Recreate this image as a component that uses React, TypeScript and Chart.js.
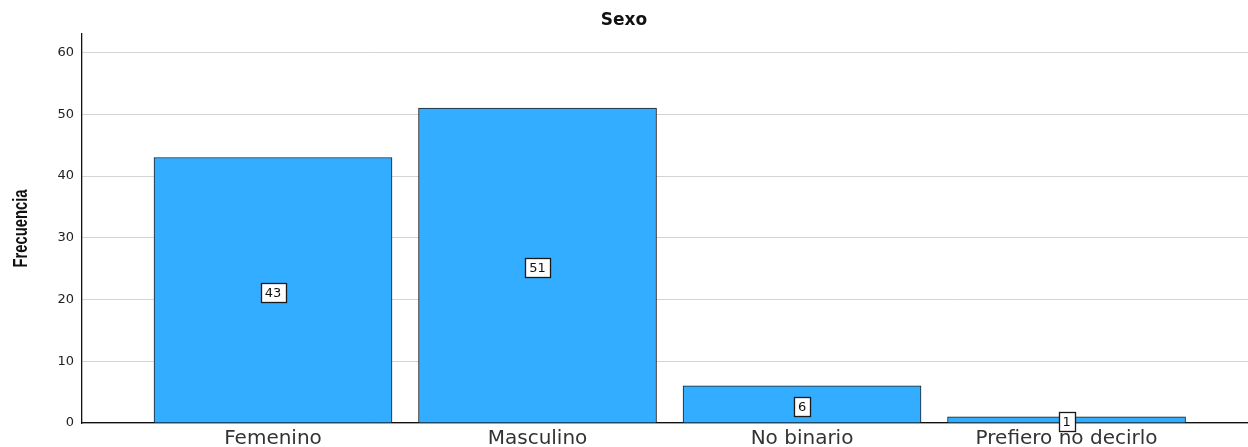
import React, { useEffect, useRef } from "react";
import { Chart, registerables } from "chart.js";

Chart.register(...registerables);

const categories = ["Femenino", "Masculino", "No binario", "Prefiero no decirlo"];
const frequencies = [43, 51, 6, 1];
const yTicks = [0, 10, 20, 30, 40, 50, 60];
const titleText = "Sexo";
const yAxisTitle = "Frecuencia";

const labelBoxPlugin = {
  id: "labelBoxes",
  afterDatasetsDraw(chart: any) {
    const ctx = chart.ctx;
    const meta = chart.getDatasetMeta(0);
    const yScale = chart.scales.y;
    ctx.save();
    ctx.font = "13px 'DejaVu Sans', sans-serif";
    ctx.textAlign = "center";
    ctx.textBaseline = "middle";
    meta.data.forEach((el: any, i: number) => {
      const v = frequencies[i];
      const cx = el.x;
      const cy = yScale.getPixelForValue(v / 2) + 2;
      const txt = String(v);
      const w = Math.max(Math.round(ctx.measureText(txt).width) + 8, 15);
      const h = 19;
      const x0 = Math.round(cx - w / 2) + 0.5;
      const y0 = Math.round(cy - h / 2) + 0.5;
      ctx.fillStyle = "#ffffff";
      ctx.fillRect(x0, y0, w, h);
      ctx.strokeStyle = "#1a1a1a";
      ctx.lineWidth = 1.3;
      ctx.strokeRect(x0, y0, w, h);
      ctx.fillStyle = "#111111";
      ctx.fillText(txt, cx, cy + 1);
    });
    ctx.restore();
  },
};

const yTitlePlugin = {
  id: "condensedYTitle",
  afterDraw(chart: any) {
    const ctx = chart.ctx;
    const area = chart.chartArea;
    ctx.save();
    ctx.translate(21, (area.top + area.bottom) / 2);
    ctx.rotate(-Math.PI / 2);
    ctx.scale(0.74, 1);
    ctx.font = "bold 20px 'Liberation Sans', Arial, sans-serif";
    ctx.fillStyle = "#111111";
    ctx.textAlign = "center";
    ctx.textBaseline = "middle";
    ctx.fillText(yAxisTitle, 0, 0);
    ctx.restore();
  },
};

export default function App() {
  const canvasRef = useRef<HTMLCanvasElement>(null);

  useEffect(() => {
    if (!canvasRef.current) return;
    const chart = new Chart(canvasRef.current, {
      type: "bar",
      data: {
        datasets: [
          {
            data: frequencies.map((v, i) => ({ x: i, y: v })),
            backgroundColor: "#33adff",
            borderColor: "#1f1f1f",
            borderWidth: 1,
            barThickness: 238,
          },
        ],
      },
      options: {
        animation: false,
        responsive: false,
        maintainAspectRatio: false,
        layout: { padding: 0 },
        plugins: {
          legend: { display: false },
          tooltip: { enabled: false },
          title: {
            display: true,
            text: titleText,
            color: "#111111",
            font: { family: "'DejaVu Sans', sans-serif", size: 17, weight: "bold" },
            padding: { top: 10, bottom: 3.6 },
          },
        },
        scales: {
          x: {
            type: "linear",
            offset: false,
            min: -0.7221,
            max: 3.686,
            grid: { display: false, drawTicks: false, offset: false },
            border: { display: true, color: "#111111", width: 1.3 },
            afterBuildTicks: (scale: any) => {
              scale.ticks = categories.map((_, i) => ({ value: i }));
            },
            afterFit: (scale: any) => {
              scale.height = 24;
            },
            ticks: {
              autoSkip: false,
              maxRotation: 0,
              minRotation: 0,
              padding: 4,
              color: "#333333",
              font: { family: "'DejaVu Sans', sans-serif", size: 20 },
              callback: (v: any) => categories[v as number] ?? "",
            },
          },
          y: {
            min: 0,
            max: 63,
            afterBuildTicks: (scale: any) => {
              scale.ticks = yTicks.map((v) => ({ value: v }));
            },
            afterFit: (scale: any) => {
              scale.width = 82;
            },
            grid: { color: "#d4d4d4", lineWidth: 1, drawTicks: false },
            border: { display: true, color: "#111111", width: 1.3 },
            ticks: {
              padding: 8,
              color: "#222222",
              font: { family: "'DejaVu Sans', sans-serif", size: 13 },
            },
            title: { display: false },
          },
        },
      },
      plugins: [labelBoxPlugin, yTitlePlugin],
    });
    return () => chart.destroy();
  }, []);

  return (
    <div style={{ position: "fixed", left: 0, top: 0, width: 1248, height: 447, background: "#ffffff" }}>
      <canvas ref={canvasRef} width={1248} height={447} style={{ display: "block" }} />
    </div>
  );
}
